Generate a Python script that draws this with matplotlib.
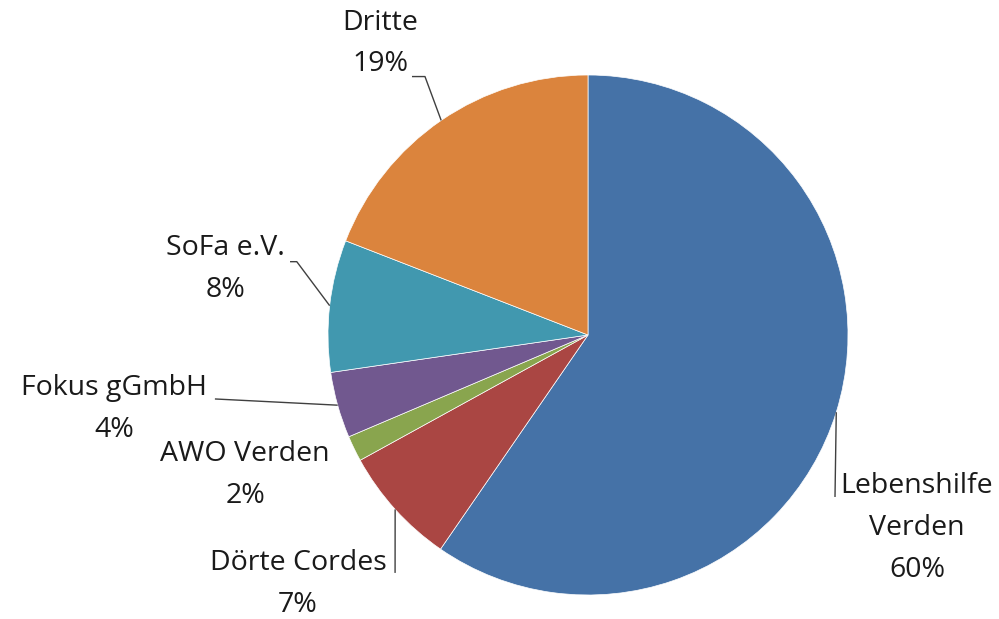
import numpy as np
import matplotlib.pyplot as plt

# ==================================================
# Daten
# ==================================================
labels = ["Lebenshilfe\nVerden", "Dörte Cordes", "AWO Verden", "Fokus gGmbH", "SoFa e.V.", "Dritte"]
values = [59.6, 7.4, 1.6, 4.1, 8.2, 19.1]
colors = ["#4572A7", "#AA4643", "#89A54E", "#71588F", "#4198AF", "#DB843D"]

# label centres (pie radius = 1, centre = 0)
label_pos = [(1.265, -0.742), (-1.115, -0.958), (-1.319, -0.538), (-1.823, -0.285), (-1.396, 0.254), (-0.80, 1.121)]
# elbow of the leader line, None = no leader
elbows = [(0.95, -0.623), (-0.742, -0.915), None, (-1.435, -0.246), (-1.12, 0.282), (-0.627, 0.994)]
stubs = [None, None, None, None, (-1.146, 0.282), (-0.677, 0.994)]

plt.rcParams["font.family"] = ["Open Sans", "DejaVu Sans"]

fig = plt.figure(figsize=(9.99, 6.19), dpi=100)
ax = fig.add_axes([0, 0, 1, 1])

wedges, _ = ax.pie(values, colors=colors, startangle=90, counterclock=False,
                   radius=1.0, wedgeprops=dict(edgecolor="white", linewidth=0.5))

total = sum(values)
for w, lab, v, pos, elb, stub in zip(wedges, labels, values, label_pos, elbows, stubs):
    txt = f"{lab}\n{round(v / total * 100):.0f}%"
    ax.text(pos[0], pos[1], txt, ha="center", va="center", fontsize=20.5,
            color="#1a1a1a", linespacing=1.65)
    if elb is None:
        continue
    ang = np.deg2rad((w.theta1 + w.theta2) / 2)
    ex, ey = np.cos(ang), np.sin(ang)
    xs, ys = [ex, elb[0]], [ey, elb[1]]
    if stub is not None:
        xs.append(stub[0])
        ys.append(stub[1])
    ax.plot(xs, ys, color="#404040", lw=1.0, solid_capstyle="butt")

ax.set_xlim(-588 / 260, (999 - 588) / 260)
ax.set_ylim((335 - 619) / 260, 335 / 260)
ax.set_aspect("equal")
ax.axis("off")

plt.savefig("out.png", dpi=100)
